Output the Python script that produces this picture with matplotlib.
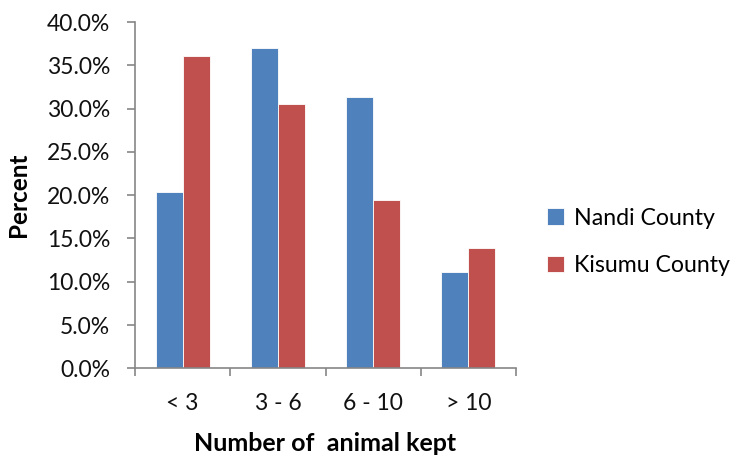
import numpy as np
import matplotlib
matplotlib.use("Agg")
import matplotlib.pyplot as plt
from matplotlib.ticker import FuncFormatter, MultipleLocator

categories = ["< 3", "3 - 6", "6 - 10", "> 10"]
nandi = [20.4, 37.0, 31.4, 11.1]
kisumu = [36.1, 30.5, 19.4, 13.9]
series_names = ["Nandi County", "Kisumu County"]

plt.rcParams['font.family'] = ['Lato', 'DejaVu Sans']

fig = plt.figure(figsize=(7.34, 4.55), dpi=100)
ax = fig.add_axes([0.184, 0.1905, 0.519, 0.761])

x = np.arange(len(categories))
w = 0.283
ax.bar(x - w / 2, nandi, w, color='#4F81BD', edgecolor='white', linewidth=0.6, label=series_names[0])
ax.bar(x + w / 2, kisumu, w, color='#C0504D', edgecolor='white', linewidth=0.6, label=series_names[1])

ax.set_xlim(-0.5, len(categories) - 0.5)
ax.set_ylim(0, 40)
ax.yaxis.set_major_locator(MultipleLocator(5))
ax.yaxis.set_major_formatter(FuncFormatter(lambda v, p: "%.1f%%" % v))

# category boundaries get the ticks, names sit in between
ax.set_xticks(np.arange(len(categories) + 1) - 0.5)
ax.set_xticklabels([])
ax.set_xticks(x, minor=True)
ax.set_xticklabels(categories, minor=True)
ax.tick_params(axis='x', which='minor', length=0, pad=18, labelsize=16.5, labelcolor='#111111')
ax.tick_params(axis='x', which='major', length=6, width=1.2, color='#868686', direction='out')
ax.tick_params(axis='y', length=6, width=1.2, color='#868686', direction='out', labelsize=16.5,
               pad=12, labelcolor='#111111')

for s in ['top', 'right']:
    ax.spines[s].set_visible(False)
for s in ['left', 'bottom']:
    ax.spines[s].set_color('#868686')
    ax.spines[s].set_linewidth(1.2)

ax.set_ylabel("Percent", fontsize=17.5, fontweight='bold')
ax.set_xlabel("Number of  animal kept", fontsize=18, fontweight='bold')
ax.yaxis.set_label_coords(-0.276, 0.5)
ax.xaxis.set_label_coords(0.5, -0.185)

ax.legend(loc='center left', bbox_to_anchor=(1.026, 0.365), frameon=False, fontsize=16.7,
          handlelength=0.73, handleheight=0.73, handletextpad=0.45, labelspacing=1.13)

fig.savefig("out.png", dpi=100)
